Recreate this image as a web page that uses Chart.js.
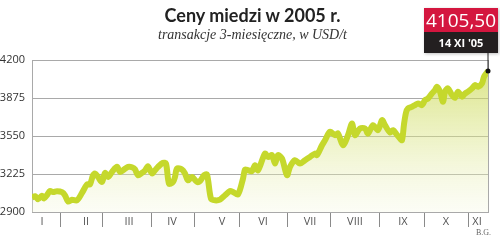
<!DOCTYPE html>
<html lang="pl">
<head>
<meta charset="utf-8">
<script src="https://cdn.jsdelivr.net/npm/chart.js@4.4.1/dist/chart.umd.min.js"></script>
<style>
  body { margin: 0; background: #fff; }
  #wrap { position: relative; width: 500px; height: 240px; overflow: hidden; }
  #wrap canvas { position: absolute; left: 0; top: 0; }
  .title { position: absolute; left: 0; width: 505px; top: 4px; text-align: center;
    font: 700 18px Lato, sans-serif; color: #222; }
  .sub { position: absolute; left: 0; width: 505px; top: 27px; text-align: center;
    font: italic 14px "Liberation Serif", serif; color: #333; }
  .badge { position: absolute; left: 424px; top: 8px; width: 74px; box-shadow: 1px 1px 3px rgba(0,0,0,.25); }
  .badge .val { background: #d4163f; color: #fff; font: 400 19px "Open Sans", sans-serif;
    height: 24px; line-height: 24px; text-align: center; }
  .badge .date { background: #231f20; color: #fff; font: 700 11px "Open Sans", sans-serif;
    height: 21px; line-height: 21px; text-align: center; }
  .src { position: absolute; right: 9px; top: 228px; font: 8px "Liberation Serif", serif; color: #666; }
</style>
</head>
<body>
<div id="wrap">
  <canvas id="c" width="500" height="240"></canvas>
  <div class="title">Ceny miedzi w 2005 r.</div>
  <div class="sub">transakcje 3-miesięczne, w USD/t</div>
  <div class="badge"><div class="val">4105,50</div><div class="date">14 XI '05</div></div>
  <div class="src">B.G.</div>
</div>
<script>
  // notowania (nr sesji od 3 I, cena w USD/t)
  const sessions = [0, 1.5, 3, 5, 6, 7.5, 9, 10.5, 12.5, 15, 16.5, 18, 20, 22.5, 25, 27.5, 29, 30.5, 31.5, 33,
    35, 36.5, 38, 40, 42.5, 44, 45.5, 48, 50, 51.5, 53, 55, 56.5, 58, 60, 61.5, 63, 65.5, 67, 68.5,
    70.5, 71.5, 72.5, 75, 76.5, 78, 80, 82.5, 84, 86, 87.5, 89.5, 91.5, 94, 96.5, 99, 100.5, 103, 105.5, 106.5,
    108, 110, 111.5, 113, 116.5, 118, 120, 121.5, 123, 125, 127.5, 129, 131.5, 134, 136.5, 139, 141.5, 142.5, 145, 146.5,
    149, 151.5, 153, 155.5, 158, 160, 161.5, 164, 166.5, 168, 170.5, 173, 175, 176.5, 179, 180.5, 182.5, 184, 185, 186,
    187, 188, 190, 191.5, 193, 195, 196.5, 198, 200, 201.5, 202.5, 204, 205.5, 206.5, 208, 210, 211.5, 213,
    215, 216.5, 218, 220, 221.5, 223, 225, 226, 228];
  const prices = [3025, 3035, 3010, 3040, 3015, 3045, 3080, 3070, 3078, 3070, 3043, 2990, 3005, 3000, 3063, 3135, 3137, 3214, 3229, 3200,
    3157, 3234, 3200, 3243, 3286, 3243, 3257, 3286, 3283, 3265, 3214, 3235, 3255, 3292, 3229, 3257, 3286, 3320, 3314, 3143,
    3157, 3200, 3271, 3263, 3229, 3171, 3200, 3157, 3165, 3214, 3220, 3014, 3000, 3006, 3043, 3080, 3071, 3051, 3186, 3263,
    3257, 3250, 3300, 3257, 3400, 3371, 3386, 3314, 3386, 3357, 3214, 3286, 3343, 3314, 3343, 3371, 3400, 3386, 3471, 3514,
    3586, 3557, 3571, 3471, 3557, 3657, 3557, 3614, 3614, 3571, 3643, 3600, 3686, 3643, 3580, 3600, 3560, 3529, 3514, 3650,
    3750, 3786, 3800, 3814, 3829, 3814, 3857, 3871, 3914, 3943, 3971, 3929, 3843, 3929, 3957, 3900, 3877, 3929,
    3886, 3914, 3929, 3957, 3986, 3971, 4000, 4057, 4105.5];

  const monthLabels = ['I', 'II', 'III', 'IV', 'V', 'VI', 'VII', 'VIII', 'IX', 'X', 'XI'];
  const monthMids = [5, 27, 48.5, 70, 95, 115.5, 139, 161.5, 185.5, 207, 222.5];
  const monthEdges = [14, 35, 59.5, 81, 103.5, 127.5, 149, 173.5, 196, 218];
  const yTicks = [2900, 3225, 3550, 3875, 4200];

  const GRID = '#a9a9a9';

  const marker = {
    id: 'marker',
    afterDatasetsDraw(chart) {
      const pt = chart.getDatasetMeta(0).data.at(-1);
      const c = chart.ctx;
      c.save();
      c.strokeStyle = '#222'; c.lineWidth = 1;
      c.beginPath(); c.moveTo(pt.x, chart.chartArea.top - 7); c.lineTo(pt.x, pt.y); c.stroke();
      c.fillStyle = '#111';
      c.beginPath(); c.arc(pt.x, pt.y, 2.5, 0, Math.PI * 2); c.fill();
      c.restore();
    }
  };

  new Chart(document.getElementById('c'), {
    type: 'line',
    data: {
      datasets: [{
        data: sessions.map((s, i) => ({ x: s, y: prices[i] })),
        borderColor: '#c5d82c', borderWidth: 6, tension: 0.3,
        pointRadius: 0, fill: 'start',
        backgroundColor: (ctx) => {
          const a = ctx.chart.chartArea;
          if (!a) return 'rgba(210,222,120,.4)';
          const g = ctx.chart.ctx.createLinearGradient(0, a.top, 0, a.bottom);
          g.addColorStop(0, 'rgba(200,214,70,.7)');
          g.addColorStop(0.55, 'rgba(220,230,140,.45)');
          g.addColorStop(1, 'rgba(245,248,225,.3)');
          return g;
        },
      }],
    },
    options: {
      responsive: false, animation: false,
      layout: { padding: { top: 60, right: 12, left: 0, bottom: 0 } },
      plugins: { legend: { display: false }, tooltip: { enabled: false } },
      scales: {
        x: {
          type: 'linear', min: 0, max: 228,
          afterBuildTicks: (s) => {
            s.ticks = monthEdges.concat(monthMids).sort((a, b) => a - b).map((v) => ({ value: v }));
          },
          afterFit: (s) => { s.height = 28; },
          grid: {
            drawOnChartArea: false, tickLength: 15, lineWidth: 1,
            color: (ctx) => (ctx.tick && monthEdges.includes(ctx.tick.value) ? '#8a8a8a' : 'rgba(0,0,0,0)'),
          },
          border: { color: GRID },
          ticks: {
            autoSkip: false, maxRotation: 0, padding: -12, color: '#555',
            font: { family: "'Open Sans', sans-serif", size: 11 },
            callback: (v) => { const i = monthMids.indexOf(v); return i >= 0 ? monthLabels[i] : ''; },
          },
        },
        y: {
          min: 2900, max: 4200,
          afterBuildTicks: (s) => { s.ticks = yTicks.map((v) => ({ value: v })); },
          afterFit: (s) => { s.width = 32; },
          grid: { color: GRID, drawTicks: false },
          border: { color: GRID },
          ticks: {
            padding: 7, color: '#333', font: { family: "'Open Sans', sans-serif", size: 11 },
            callback: (v) => String(v),
          },
        },
        y2: {
          position: 'right', min: 2900, max: 4200,
          afterFit: (s) => { s.width = 0; },
          grid: { display: false },
          border: { color: GRID },
          ticks: { display: false },
        },
      },
    },
    plugins: [marker],
  });
</script>
</body>
</html>
